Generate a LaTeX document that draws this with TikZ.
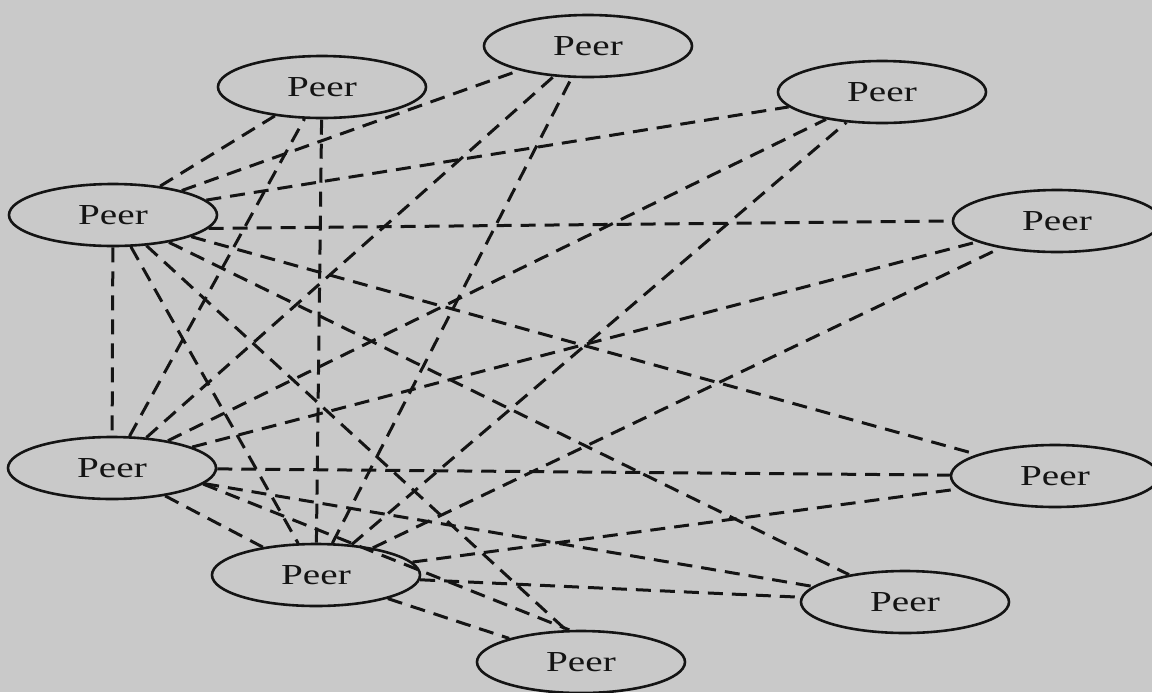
\documentclass[tikz,border=0pt]{standalone}
\usepackage{fontspec}
\setmainfont{Liberation Serif}
\usepackage{graphicx}
\usetikzlibrary{shapes.geometric}
\definecolor{paper}{gray}{0.79}
\definecolor{ink}{gray}{0.08}
\newcommand{\hstretch}[1]{\scalebox{1.35}[1]{#1}}
\tikzset{
  peer/.style={ellipse, draw=ink, line width=1.3pt, minimum width=104pt, minimum height=31pt, inner sep=0pt, text=ink, font=\fontsize{14.5}{17}\selectfont},
  link/.style={draw=ink, line width=1.5pt, dash pattern=on 7.5pt off 4.5pt},
}

\begin{document}
\begin{tikzpicture}[x=0.5pt, y=-0.5pt]
  \useasboundingbox (0,0) rectangle (1152,692);
  \fill[paper] (0,0) rectangle (1152,692);

  % Peers
  \node[peer] (ptop) at (588,46) {\hstretch{Peer}};
  \node[peer] (ptopleft) at (322,87) {\hstretch{Peer}};
  \node[peer] (ptopright) at (882,92) {\hstretch{Peer}};
  \node[peer] (pleft) at (113,215) {\hstretch{Peer}};
  \node[peer] (pright) at (1057,221) {\hstretch{Peer}};
  \node[peer] (plowleft) at (112,468) {\hstretch{Peer}};
  \node[peer] (plowright) at (1055,476) {\hstretch{Peer}};
  \node[peer] (pbotleft) at (316,575) {\hstretch{Peer}};
  \node[peer] (pbotright) at (905,602) {\hstretch{Peer}};
  \node[peer] (pbottom) at (581,662) {\hstretch{Peer}};

  % Links of the upper left peer
  \draw[link] (pleft) -- (ptop);
  \draw[link] (pleft) -- (ptopleft);
  \draw[link] (pleft) -- (ptopright);
  \draw[link] (pleft.-8) -- (pright.west);
  \draw[link] (pleft) -- (plowleft);
  \draw[link] (pleft) -- (plowright);
  \draw[link] (pleft) -- (pbotleft);
  \draw[link] (pleft) -- (pbotright);
  \draw[link] (pleft) -- (pbottom.115);

  % Links of the lower left peer
  \draw[link] (plowleft) -- (ptop);
  \draw[link] (plowleft) -- (ptopleft);
  \draw[link] (plowleft) -- (ptopright);
  \draw[link] (plowleft) -- (pright);
  \draw[link] (plowleft) -- (plowright);
  \draw[link] (plowleft) -- (pbotleft);
  \draw[link] (plowleft) -- (pbotright);
  \draw[link] (plowleft.-10) -- (pbottom.110);

  % Links of the bottom left peer
  \draw[link] (pbotleft) -- (ptop);
  \draw[link] (pbotleft) -- (ptopleft);
  \draw[link] (pbotleft) -- (ptopright);
  \draw[link] (pbotleft) -- (pright);
  \draw[link] (pbotleft) -- (plowright);
  \draw[link] (pbotleft) -- (pbotright);
  \draw[link] (pbotleft) -- (pbottom);
\end{tikzpicture}
\end{document}
